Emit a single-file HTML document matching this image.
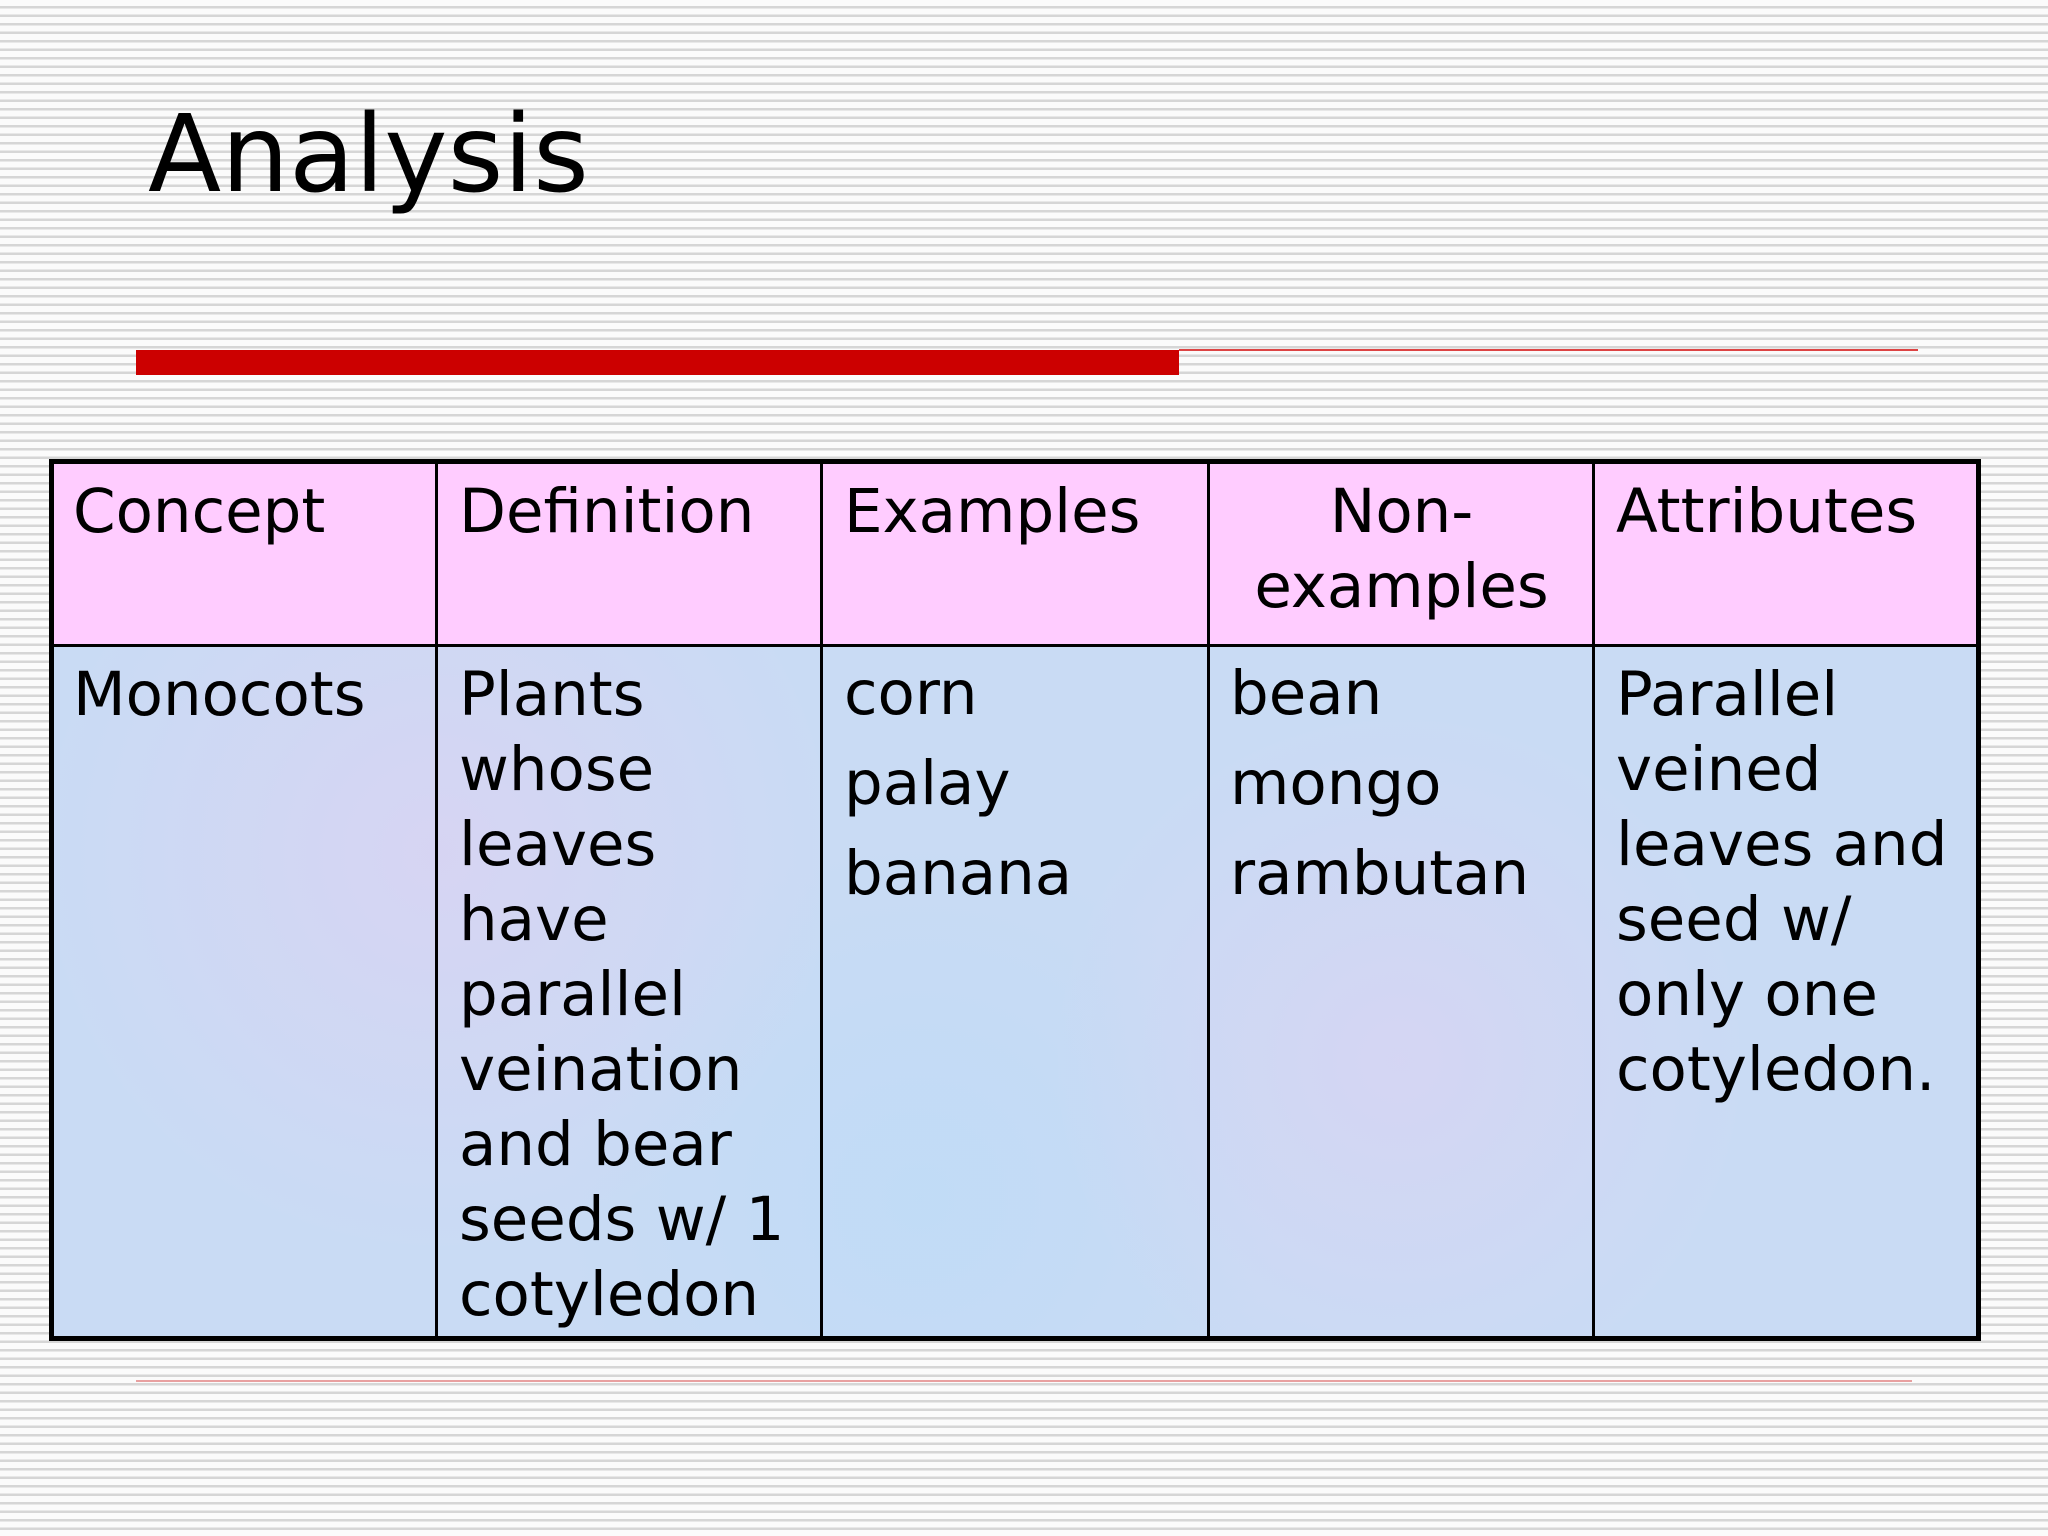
<!DOCTYPE html>
<html><head><meta charset="utf-8"><style>
html,body{margin:0;padding:0}
body{width:2048px;height:1536px;position:relative;overflow:hidden;background:#fff repeating-linear-gradient(180deg,#fbfbfb 0px,#fbfbfb 6px,#d6d6d6 6px,#d6d6d6 8.5px);font-family:"DejaVu Sans","Liberation Sans",sans-serif;color:#000}
.abs{position:absolute}
.cell{position:absolute;font-size:61px;line-height:75px;white-space:nowrap}
.hd{top:474px}
.bd{top:657px}
.vl{position:absolute;top:460px;height:880px;width:3px;background:#000}
</style></head><body>
<div class="abs" style="left:148px;top:102px;font-size:107px;line-height:107px">Analysis</div>
<div class="abs" style="left:136px;top:350px;width:1043px;height:25px;background:#cc0000"></div>
<div class="abs" style="left:1179px;top:349px;width:739px;height:2px;background:#d44"></div>
<div class="abs" style="left:136px;top:1380px;width:1776px;height:2px;background:#e8a0a0"></div>

<div class="abs" style="left:49px;top:459px;width:1932px;height:882px;box-sizing:border-box;border:5px solid #000;background:#c9dbf4">
  <div class="abs" style="left:0;top:0;width:100%;height:180px;background:#ffccff;border-bottom:3px solid #000"></div>
  <div class="abs" style="left:0;top:183px;width:100%;height:689px;background:radial-gradient(circle at 20% 30%,rgba(240,200,240,.35),transparent 25%),radial-gradient(circle at 70% 60%,rgba(240,200,240,.3),transparent 25%),radial-gradient(circle at 45% 80%,rgba(180,220,250,.4),transparent 30%)"></div>
</div>
<div class="vl" style="left:435px"></div>
<div class="vl" style="left:820px"></div>
<div class="vl" style="left:1207px"></div>
<div class="vl" style="left:1592px"></div>

<div class="cell hd" style="left:73px">Concept</div>
<div class="cell hd" style="left:459px">Definition</div>
<div class="cell hd" style="left:844px">Examples</div>
<div class="cell hd" style="left:1210px;width:383px;text-align:center">Non-<br>examples</div>
<div class="cell hd" style="left:1616px">Attributes</div>

<div class="cell bd" style="left:73px">Monocots</div>
<div class="cell bd" style="left:459px">Plants<br>whose<br>leaves<br>have<br>parallel<br>veination<br>and bear<br>seeds w/ 1<br>cotyledon</div>
<div class="cell bd" style="left:844px;line-height:90px;top:649px">corn<br>palay<br>banana</div>
<div class="cell bd" style="left:1230px;line-height:90px;top:649px">bean<br>mongo<br>rambutan</div>
<div class="cell bd" style="left:1616px">Parallel<br>veined<br>leaves and<br>seed w/<br>only one<br>cotyledon.</div>
</body></html>
